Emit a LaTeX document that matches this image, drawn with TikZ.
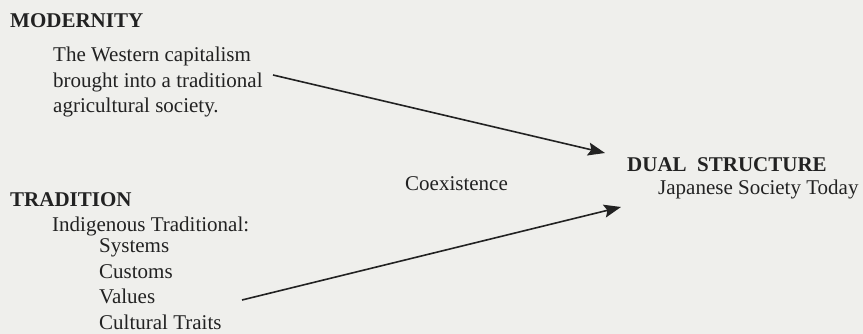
\documentclass[tikz,border=0pt]{standalone}
\usepackage{fontspec}
\setmainfont{Liberation Serif}
\usetikzlibrary{positioning,arrows.meta}
\definecolor{ink}{HTML}{222222}
\definecolor{paper}{HTML}{EFEFEC}

\begin{document}
\begin{tikzpicture}[x=1pt,y=-1pt,
  head/.style={font=\bfseries\fontsize{21}{25.5}\selectfont,text=ink,inner sep=0pt,anchor=base west},
  body/.style={font=\fontsize{21}{25.5}\selectfont,text=ink,inner sep=0pt,align=left,anchor=base west},
  arr/.style={-{Stealth[length=17pt,width=13pt,inset=3pt]},draw=ink,line width=1.6pt}]
\fill[paper] (0,0) rectangle (863,334);
\useasboundingbox (0,0) rectangle (863,334);
% left side (base = last line)
\node[head] (mod)  at (10,28)  {MODERNITY};
\node[body] (modtxt) at (53,113) {The Western capitalism\\brought into a traditional\\agricultural society.};
\node[head] (trad) at (10,207) {TRADITION};
\node[body] (tradtxt) at (52,232) {Indigenous Traditional:};
\node[body] (traits) at (99,329) {Systems\\Customs\\Values\\Cultural Traits};
% right side
\node[head] (dual)  at (627,172) {DUAL\enspace STRUCTURE};
\node[body] (today) at (658,195) {Japanese Society Today};
\node[body] (coex)  at (405,191) {Coexistence};
% arrows
\coordinate (modtip)  at (605,153);
\coordinate (tradtip) at (621,207);
\coordinate (modstart)  at (273,75);
\coordinate (tradstart) at (242,300);
\draw[arr] (modstart) -- (modtip);
\draw[arr] (tradstart) -- (tradtip);
\end{tikzpicture}
\end{document}
